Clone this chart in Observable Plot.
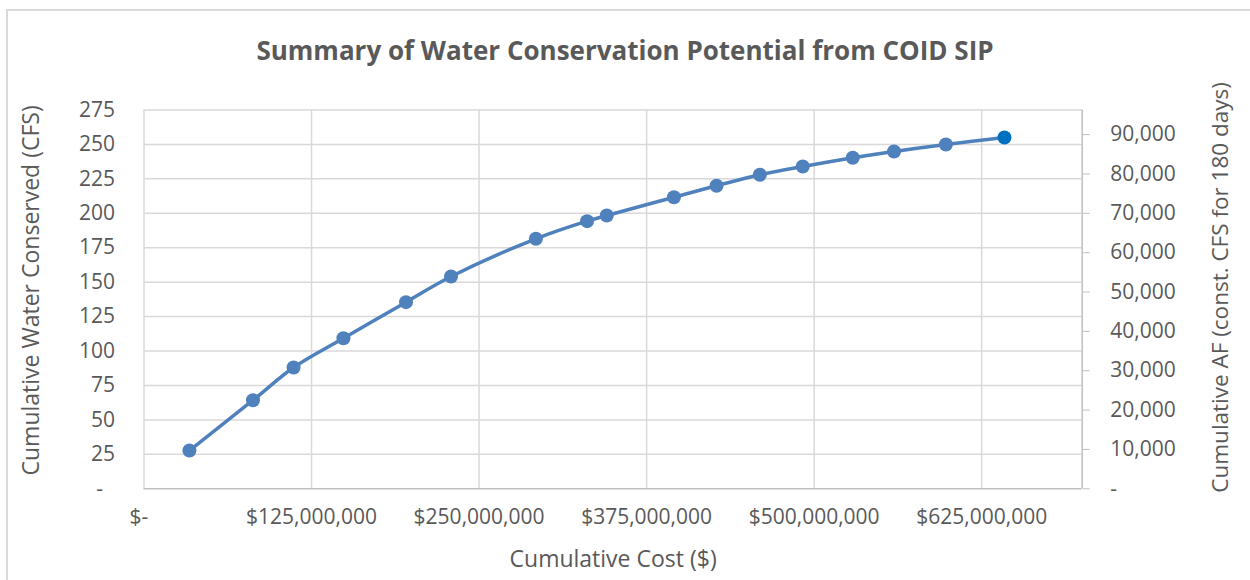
<!DOCTYPE html>
<html>
<head>
<meta charset="utf-8">
<script src="https://cdn.jsdelivr.net/npm/d3@7"></script>
<script src="https://cdn.jsdelivr.net/npm/@observablehq/plot@0.6"></script>
<style>
  html, body { margin: 0; padding: 0; background: #fff; }
  #wrap { position: relative; width: 1250px; height: 580px; overflow: hidden; background: #fff; }
  #frame { position: absolute; left: 6px; top: 9px; width: 1300px; height: 640px; border: 2px solid #d9d9d9; box-sizing: border-box; }
  #title { position: absolute; left: 0; top: 32px; width: 1250px; text-align: center;
           font-family: "Open Sans", sans-serif; font-weight: 700; font-size: 26px; color: #595959; }
  #chart { position: absolute; left: 0; top: 80px; }
</style>
</head>
<body>
<div id="wrap">
  <div id="frame"></div>
  <div id="title">Summary of Water Conservation Potential from COID SIP</div>
  <div id="chart"></div>
</div>
<script>
// Cumulative cost ($ millions) and cumulative water conserved (CFS)
const costM = [33.9, 81.3, 111.6, 148.8, 195.5, 229.1, 292.4, 330.6, 345.3, 395.4, 427.2, 459.5, 491.5, 528.8, 559.6, 598.3, 642.0];
const cfs   = [27.8, 64.3, 88.1, 109.3, 135.5, 154.1, 181.5, 194.3, 198.4, 211.7, 220.0, 228.0, 234.0, 240.3, 244.9, 249.9, 255.0];

const xTicks  = [0, 125e6, 250e6, 375e6, 500e6, 625e6];
const yTicks  = [0, 25, 50, 75, 100, 125, 150, 175, 200, 225, 250, 275];
const afTicks = [0, 10000, 20000, 30000, 40000, 50000, 60000, 70000, 80000, 90000];
const AF_PER_CFS = 350;

const data = costM.map((c, i) => ({cost: c * 1e6, cfs: cfs[i], last: i === costM.length - 1}));

const fmtMoney = d => d === 0 ? "$-\u2002" : "$" + d3.format(",")(d);
const fmtAF = d => { const v = Math.round(d * AF_PER_CFS); return v === 0 ? "-" : d3.format(",")(v); };

const chart = Plot.plot({
  width: 1250,
  height: 500,
  marginTop: 29.5,
  marginBottom: 91.7,
  marginLeft: 143.5,
  marginRight: 168.3,
  x: {domain: [0, 700e6]},
  y: {domain: [0, 275]},
  style: {fontFamily: "Open Sans, sans-serif", fontSize: "21px", color: "#595959", background: "transparent"},
  marks: [
    Plot.gridY(yTicks.filter(d => d > 0), {stroke: "#d9d9d9", strokeOpacity: 1, strokeWidth: 1.5}),
    Plot.gridX(xTicks, {stroke: "#d9d9d9", strokeOpacity: 1, strokeWidth: 1.5}),
    Plot.ruleY([0], {stroke: "#bfbfbf", strokeWidth: 1.5}),
    Plot.ruleX([700e6], {stroke: "#bfbfbf", strokeWidth: 1.5}),
    Plot.axisY(yTicks, {
      anchor: "left", tickSize: 0, tickPadding: 29,
      tickFormat: d => d === 0 ? "-\u2007" : String(d),
      label: null, fontSize: 21
    }),
    Plot.axisY(afTicks.map(d => d / AF_PER_CFS), {
      anchor: "right", tickSize: 7, tickPadding: 21, stroke: "#bfbfbf",
      tickFormat: fmtAF, label: null, fontSize: 21
    }),
    Plot.axisX(xTicks, {
      anchor: "bottom", tickSize: 0, tickPadding: 20,
      tickFormat: fmtMoney, label: null, fontSize: 21
    }),
    Plot.text(["Cumulative Water Conserved (CFS)"], {
      frameAnchor: "left", rotate: -90, lineAnchor: "top", textAnchor: "middle",
      dx: -121, dy: -9, fontSize: 23, fill: "#595959"
    }),
    Plot.text(["Cumulative AF (const. CFS for 180 days)"], {
      frameAnchor: "right", rotate: -90, lineAnchor: "bottom", textAnchor: "middle",
      dx: 146, dy: -12, fontSize: 22.5, fill: "#595959"
    }),
    Plot.text(["Cumulative Cost ($)"], {
      frameAnchor: "bottom", lineAnchor: "bottom", textAnchor: "middle",
      dy: 78, fontSize: 23, fill: "#595959"
    }),
    Plot.line(data, {x: "cost", y: "cfs", curve: "catmull-rom", stroke: "#4f81bd", strokeWidth: 3.5}),
    Plot.dot(data, {x: "cost", y: "cfs", r: 7, fill: d => d.last ? "#0070c0" : "#4f81bd", stroke: "none"})
  ]
});
document.getElementById("chart").appendChild(chart);
</script>
</body>
</html>
